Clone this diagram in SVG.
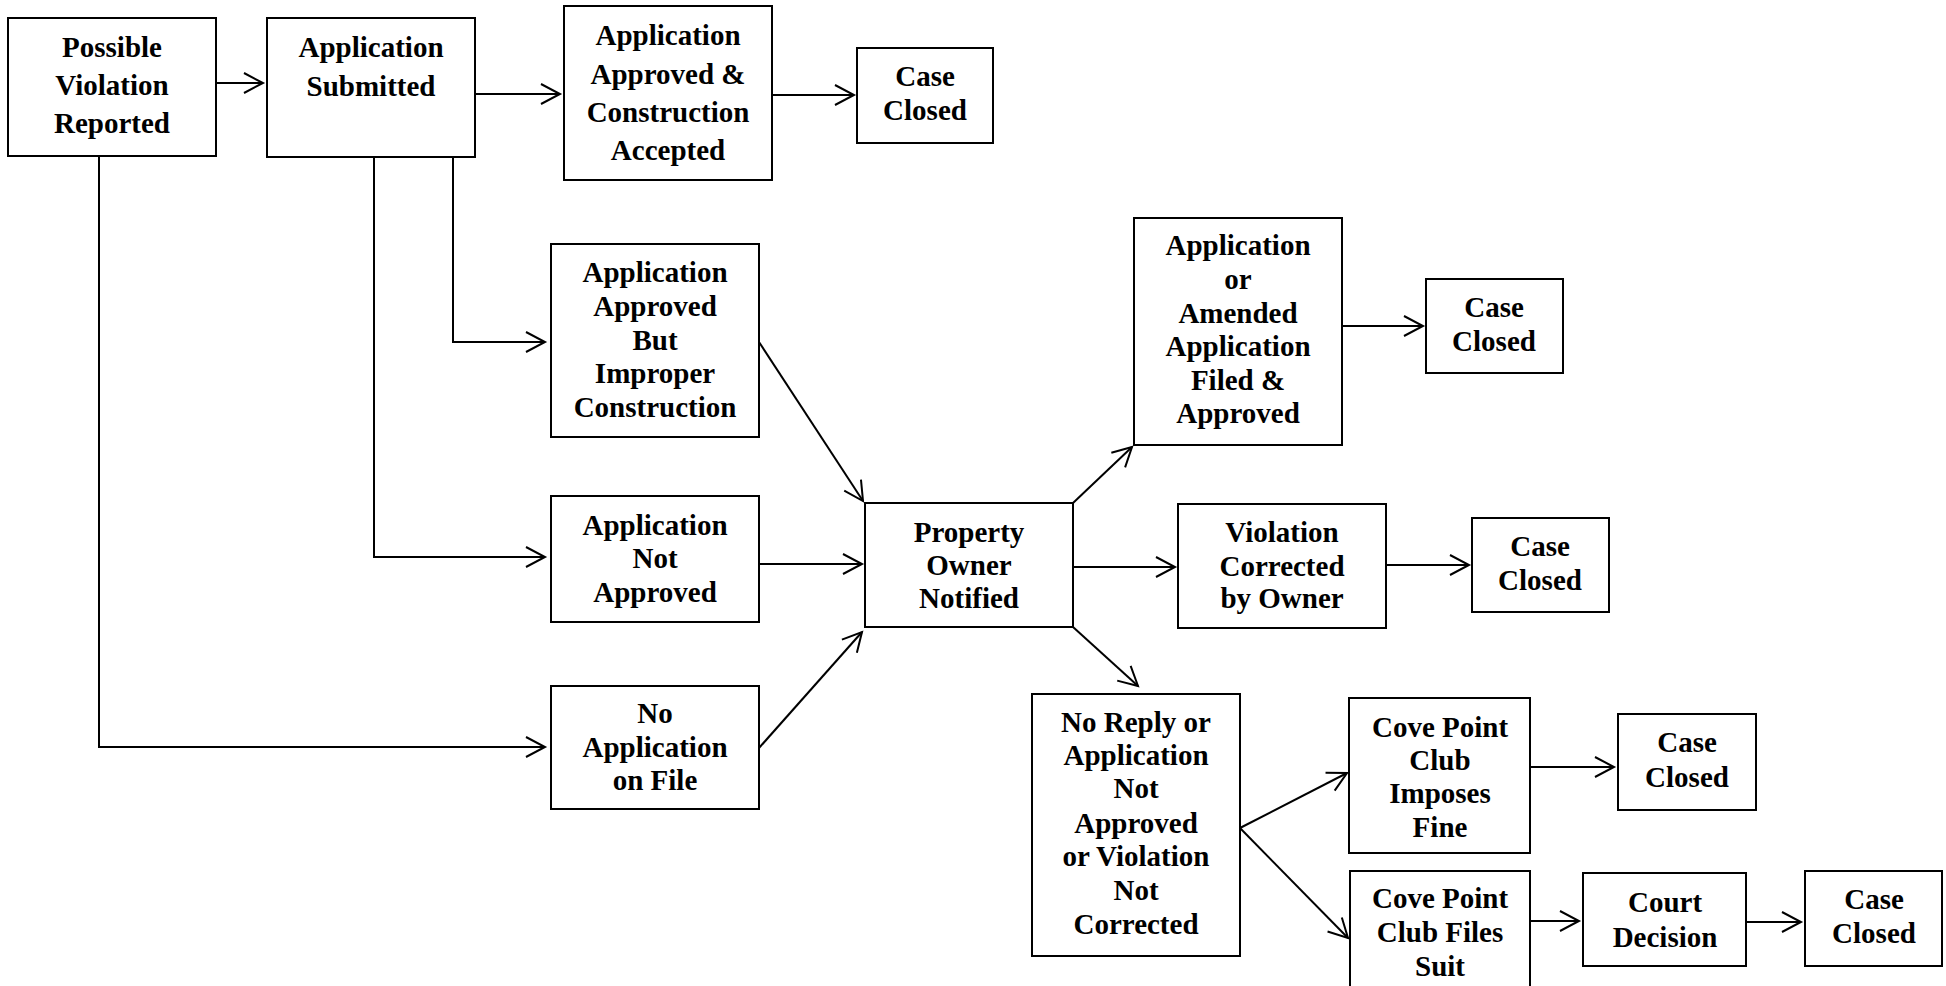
<svg xmlns="http://www.w3.org/2000/svg" width="1946" height="986" viewBox="0 0 1946 986">
<style>
rect{fill:#fff;stroke:#000;stroke-width:2}
text{font-family:"Liberation Serif","Times New Roman",serif;font-weight:bold;font-size:29px;text-anchor:middle;fill:#000}
.c path,.c line,.c polyline{fill:none;stroke:#000;stroke-width:2}
</style>
<defs>
<marker id="a" markerUnits="userSpaceOnUse" markerWidth="30" markerHeight="30" viewBox="-25 -15 30 30" refX="0" refY="0" orient="auto">
<path d="M-19,-10 L0,0 L-19,10" fill="none" stroke="#000" stroke-width="2"/>
</marker>
</defs>
<rect x="0" y="0" width="1946" height="986" style="stroke:none"/>
<g class="c" id="connectors">
<line x1="216" y1="83" x2="263" y2="83" marker-end="url(#a)"/>
<line x1="475" y1="94" x2="560" y2="94" marker-end="url(#a)"/>
<line x1="772" y1="95" x2="854" y2="95" marker-end="url(#a)"/>
<polyline points="99,156 99,747 545,747" marker-end="url(#a)"/>
<polyline points="374,157 374,557 545,557" marker-end="url(#a)"/>
<polyline points="453,157 453,342 545,342" marker-end="url(#a)"/>
<line x1="759" y1="342" x2="863" y2="501" marker-end="url(#a)"/>
<line x1="759" y1="564" x2="862" y2="564" marker-end="url(#a)"/>
<line x1="759" y1="748" x2="862" y2="632" marker-end="url(#a)"/>
<line x1="1073" y1="503" x2="1132" y2="447" marker-end="url(#a)"/>
<line x1="1073" y1="567" x2="1175" y2="567" marker-end="url(#a)"/>
<line x1="1073" y1="627" x2="1138" y2="686" marker-end="url(#a)"/>
<line x1="1342" y1="326" x2="1423" y2="326" marker-end="url(#a)"/>
<line x1="1386" y1="565" x2="1469" y2="565" marker-end="url(#a)"/>
<line x1="1240" y1="828" x2="1347" y2="773" marker-end="url(#a)"/>
<line x1="1240" y1="828" x2="1348" y2="938" marker-end="url(#a)"/>
<line x1="1530" y1="767" x2="1614" y2="767" marker-end="url(#a)"/>
<line x1="1530" y1="921" x2="1579" y2="921" marker-end="url(#a)"/>
<line x1="1746" y1="922" x2="1801" y2="922" marker-end="url(#a)"/>
</g>
<g id="n1"><rect x="8" y="18" width="208" height="138"/><text x="112" y="57">Possible</text><text x="112" y="95">Violation</text><text x="112" y="133">Reported</text></g>
<g id="n2"><rect x="267" y="18" width="208" height="139"/><text x="371" y="57">Application</text><text x="371" y="96">Submitted</text></g>
<g id="n3"><rect x="564" y="6" width="208" height="174"/><text x="668" y="45">Application</text><text x="668" y="84">Approved &amp;</text><text x="668" y="122">Construction</text><text x="668" y="160">Accepted</text></g>
<g id="n4"><rect x="857" y="48" width="136" height="95"/><text x="925" y="86">Case</text><text x="925" y="120">Closed</text></g>
<g id="n5"><rect x="551" y="244" width="208" height="193"/><text x="655" y="282">Application</text><text x="655" y="316">Approved</text><text x="655" y="350">But</text><text x="655" y="383">Improper</text><text x="655" y="417">Construction</text></g>
<g id="n6"><rect x="551" y="496" width="208" height="126"/><text x="655" y="535">Application</text><text x="655" y="568">Not</text><text x="655" y="602">Approved</text></g>
<g id="n7"><rect x="551" y="686" width="208" height="123"/><text x="655" y="723">No</text><text x="655" y="757">Application</text><text x="655" y="790">on File</text></g>
<g id="n8"><rect x="865" y="503" width="208" height="124"/><text x="969" y="542">Property</text><text x="969" y="575">Owner</text><text x="969" y="608">Notified</text></g>
<g id="n9"><rect x="1134" y="218" width="208" height="227"/><text x="1238" y="255">Application</text><text x="1238" y="289">or</text><text x="1238" y="323">Amended</text><text x="1238" y="356">Application</text><text x="1238" y="390">Filed &amp;</text><text x="1238" y="423">Approved</text></g>
<g id="n10"><rect x="1426" y="279" width="137" height="94"/><text x="1494" y="317">Case</text><text x="1494" y="351">Closed</text></g>
<g id="n11"><rect x="1178" y="504" width="208" height="124"/><text x="1282" y="542">Violation</text><text x="1282" y="576">Corrected</text><text x="1282" y="608">by Owner</text></g>
<g id="n12"><rect x="1472" y="518" width="137" height="94"/><text x="1540" y="556">Case</text><text x="1540" y="590">Closed</text></g>
<g id="n13"><rect x="1032" y="694" width="208" height="262"/><text x="1136" y="732">No Reply or</text><text x="1136" y="765">Application</text><text x="1136" y="798">Not</text><text x="1136" y="833">Approved</text><text x="1136" y="866">or Violation</text><text x="1136" y="900">Not</text><text x="1136" y="934">Corrected</text></g>
<g id="n14"><rect x="1349" y="698" width="181" height="155"/><text x="1440" y="737">Cove Point</text><text x="1440" y="770">Club</text><text x="1440" y="803">Imposes</text><text x="1440" y="837">Fine</text></g>
<g id="n15"><rect x="1618" y="714" width="138" height="96"/><text x="1687" y="752">Case</text><text x="1687" y="787">Closed</text></g>
<g id="n16"><rect x="1350" y="871" width="180" height="130"/><text x="1440" y="908">Cove Point</text><text x="1440" y="942">Club Files</text><text x="1440" y="976">Suit</text></g>
<g id="n17"><rect x="1583" y="873" width="163" height="93"/><text x="1665" y="912">Court</text><text x="1665" y="947">Decision</text></g>
<g id="n18"><rect x="1805" y="871" width="137" height="95"/><text x="1874" y="909">Case</text><text x="1874" y="943">Closed</text></g>
</svg>
